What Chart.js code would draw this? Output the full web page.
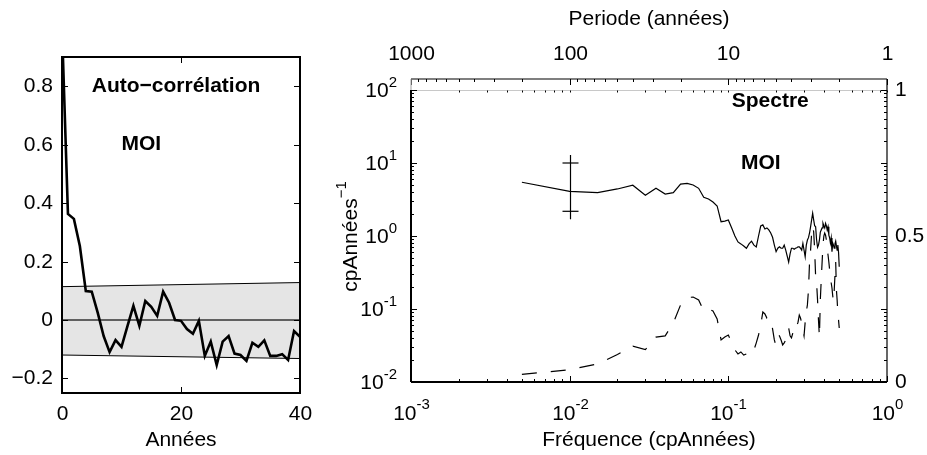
<!DOCTYPE html>
<html>
<head>
<meta charset="utf-8">
<script src="https://cdn.jsdelivr.net/npm/chart.js@4.4.1/dist/chart.umd.min.js"></script>
<style>
  html, body { margin: 0; padding: 0; background: #fff; }
  #wrap { position: relative; width: 927px; height: 455px; }
  #wrap canvas { position: absolute; left: 0; top: 0; }
</style>
</head>
<body>
<div id="wrap">
  <canvas id="acf" width="927" height="455"></canvas>
  <canvas id="spec" width="927" height="455"></canvas>
</div>
<script>
const FONT = '"Liberation Sans", Arial, Helvetica, sans-serif';
const FS = 21;      // tick labels and titles
const FS_EXP = 15;  // exponents

// ---- Auto-correlation panel ----
const LAGS = [0, 1, 2, 3, 4, 5, 6, 7, 8, 9, 10, 11, 12, 13, 14, 15, 16, 17, 18, 19, 20,
              21, 22, 23, 24, 25, 26, 27, 28, 29, 30, 31, 32, 33, 34, 35, 36, 37, 38, 39, 40];
const ACF = [1.0, 0.363, 0.346, 0.253, 0.099, 0.097, 0.025, -0.055, -0.110, -0.069, -0.092,
             -0.021, 0.048, -0.020, 0.065, 0.045, 0.014, 0.097, 0.059, 0.000, -0.003,
             -0.031, -0.047, -0.003, -0.123, -0.074, -0.154, -0.074, -0.055, -0.115, -0.120,
             -0.140, -0.078, -0.092, -0.070, -0.123, -0.123, -0.117, -0.137, -0.038, -0.058];
const BAND_LAGS = [0, 40];
const BAND_UPPER = [0.114, 0.128];
const BAND_LOWER = [-0.120, -0.132];
const ACF_XTICKS = [0, 20, 40];
const ACF_YTICKS = [-0.2, 0, 0.2, 0.4, 0.6, 0.8];
const ACF_YLABELS = ['\u22120.2', '0', '0.2', '0.4', '0.6', '0.8'];

// ---- Spectrum panel ----
const FREQ = [
  0.005, 0.010, 0.015, 0.020, 0.025, 0.030, 0.035, 0.040, 0.045, 0.050,
  0.055, 0.060, 0.065, 0.070, 0.075, 0.080, 0.085, 0.090, 0.095, 0.100,
  0.105, 0.110, 0.115, 0.120, 0.125, 0.130, 0.135, 0.140, 0.145, 0.150,
  0.155, 0.160, 0.165, 0.170, 0.175, 0.180, 0.185, 0.190, 0.195, 0.200,
  0.205, 0.210, 0.215, 0.220, 0.225, 0.230, 0.235, 0.240, 0.245, 0.250,
  0.255, 0.260, 0.265, 0.270, 0.275, 0.280, 0.285, 0.290, 0.295, 0.300,
  0.305, 0.310, 0.315, 0.320, 0.325, 0.330, 0.335, 0.340, 0.345, 0.350,
  0.355, 0.360, 0.365, 0.370, 0.375, 0.380, 0.385, 0.390, 0.395, 0.400,
  0.405, 0.410, 0.415, 0.420, 0.425, 0.430, 0.435, 0.440, 0.445, 0.450,
  0.455, 0.460, 0.465, 0.470, 0.475, 0.480, 0.485, 0.490, 0.495, 0.500];
// spectre (cpAnnées^-1), solid line, left log axis
const SPEC = [
  5.45, 4.09, 3.92, 4.41, 4.96, 3.61, 4.50, 3.76, 3.92, 5.15,
  5.27, 5.00, 4.50, 3.39, 3.21, 2.92, 2.58, 1.57, 1.60, 1.66,
  1.29, 1.00, 0.83, 0.78, 0.73, 0.68, 0.78, 0.85, 0.75, 0.71,
  1.00, 1.37, 1.42, 1.25, 1.29, 1.21, 1.10, 0.96, 0.75, 0.61,
  0.68, 0.71, 0.68, 0.68, 0.75, 0.64, 0.53, 0.44, 0.57, 0.68,
  0.68, 0.66, 0.68, 0.69, 0.71, 0.71, 0.68, 0.64, 0.79, 0.64,
  0.52, 0.75, 0.88, 0.95, 1.10, 1.34, 1.66, 2.05, 1.66, 1.38,
  1.34, 0.88, 0.70, 0.75, 0.88, 1.13, 1.21, 1.29, 1.49, 1.37,
  1.29, 1.49, 1.37, 1.21, 1.34, 1.03, 0.94, 0.80, 0.94, 0.61,
  0.80, 0.75, 0.68, 0.78, 0.85, 0.73, 0.64, 0.75, 0.60, 0.38];
// dashed line, right linear axis (0..1)
const COH = [
  0.026, 0.042, 0.062, 0.094, 0.123, 0.111, 0.154, 0.158, 0.202, 0.264,
  0.289, 0.291, 0.281, 0.243, 0.250, 0.243, 0.216, 0.144, 0.154, 0.161,
  0.134, 0.110, 0.096, 0.103, 0.092, 0.096, 0.089, 0.096, 0.110, 0.134,
  0.161, 0.195, 0.240, 0.233, 0.219, 0.223, 0.212, 0.182, 0.144, 0.123,
  0.154, 0.158, 0.144, 0.127, 0.134, 0.144, 0.168, 0.185, 0.158, 0.151,
  0.168, 0.185, 0.178, 0.192, 0.205, 0.229, 0.219, 0.202, 0.178, 0.158,
  0.205, 0.240, 0.264, 0.315, 0.411, 0.452, 0.510, 0.534, 0.514, 0.452,
  0.360, 0.339, 0.281, 0.212, 0.154, 0.281, 0.349, 0.411, 0.469, 0.500,
  0.510, 0.503, 0.486, 0.452, 0.435, 0.411, 0.384, 0.356, 0.339, 0.322,
  0.295, 0.277, 0.315, 0.366, 0.411, 0.315, 0.281, 0.236, 0.212, 0.185];

// error bar at 10^-2
const ERR_FREQ = 0.01;
const ERR_LOW = 2.18;
const ERR_HIGH = 10;

const FREQ_DECADES = [0.001, 0.01, 0.1, 1];
const FREQ_EXPS = ['-3', '-2', '-1', '0'];
const PERIOD_TICKS = [1000, 100, 10, 1];
const SPEC_DECADES = [0.01, 0.1, 1, 10, 100];
const SPEC_EXPS = ['-2', '-1', '0', '1', '2'];
const COH_TICKS = [0, 0.5, 1];
const COH_LABELS = ['0', '0.5', '1'];
const SPEC_YMAX = 141.5;
const COH_YMAX = 1.0377;

// ---- drawing helpers ----
function seg(ctx, x1, y1, x2, y2) {
  ctx.beginPath();
  ctx.moveTo(x1, y1);
  ctx.lineTo(x2, y2);
  ctx.stroke();
}

function label(ctx, s, x, y, align, size, bold) {
  ctx.font = (bold ? 'bold ' : '') + (size || FS) + 'px ' + FONT;
  ctx.textAlign = align || 'center';
  ctx.textBaseline = 'middle';
  ctx.fillStyle = '#000';
  ctx.fillText(s, x, y);
}

// "10" with a raised exponent
function powLabel(ctx, exp, x, y, align) {
  ctx.font = FS + 'px ' + FONT;
  const wb = ctx.measureText('10').width;
  ctx.font = FS_EXP + 'px ' + FONT;
  const we = ctx.measureText(exp).width;
  let x0 = x;
  if (align === 'center') x0 = x - (wb + we) / 2;
  if (align === 'right') x0 = x - wb - we;
  label(ctx, '10', x0, y, 'left');
  label(ctx, exp, x0 + wb, y - 9, 'left', FS_EXP);
}

function minorsOf(decades) {
  const out = [];
  decades.slice(0, -1).forEach(d => {
    for (let m = 2; m <= 9; m++) out.push(d * m);
  });
  return out;
}

// ---- left panel frame ----
const acfFrame = {
  id: 'acfFrame',
  afterDraw(chart) {
    const { ctx, chartArea: a } = chart;
    const x = chart.scales.x, y = chart.scales.y;
    ctx.save();
    ctx.strokeStyle = '#000';
    ctx.lineWidth = 1;
    ACF_XTICKS.forEach(v => {
      const px = Math.round(x.getPixelForValue(v)) + 0.5;
      seg(ctx, px, a.bottom, px, a.bottom - 6);
      seg(ctx, px, a.top, px, a.top + 6);
      label(ctx, String(v), px, 414);
    });
    ACF_YTICKS.forEach((v, i) => {
      const py = Math.round(y.getPixelForValue(v)) + 0.5;
      seg(ctx, a.left, py, a.left + 6, py);
      seg(ctx, a.right, py, a.right - 6, py);
      label(ctx, ACF_YLABELS[i], 53, py, 'right');
    });
    ctx.lineWidth = 2;
    ctx.strokeRect(a.left, a.top, a.right - a.left, a.bottom - a.top);

    label(ctx, 'Années', (a.left + a.right) / 2, 440);
    label(ctx, 'Auto\u2212corrélation', x.getPixelForValue(5), y.getPixelForValue(0.8), 'left', FS, true);
    label(ctx, 'MOI', x.getPixelForValue(10), y.getPixelForValue(0.6), 'left', FS, true);
    ctx.restore();
  }
};

// ---- right panel frame ----
const specFrame = {
  id: 'specFrame',
  beforeDatasetsDraw(chart) {
    const { ctx, chartArea: a } = chart;
    const x = chart.scales.x, y1 = chart.scales.y1;
    const py = Math.round(y1.getPixelForValue(1)) + 0.5;
    ctx.save();
    ctx.strokeStyle = '#c8c8c8';
    ctx.lineWidth = 1;
    seg(ctx, a.left, py, a.right, py);
    ctx.strokeStyle = '#000';
    minorsOf(FREQ_DECADES).concat(FREQ_DECADES).forEach(f => {
      const px = Math.round(x.getPixelForValue(f)) + 0.5;
      seg(ctx, px, py, px, py + 2);
    });
    ctx.restore();
  },
  afterDraw(chart) {
    const { ctx, chartArea: a } = chart;
    const x = chart.scales.x, y = chart.scales.y, y1 = chart.scales.y1;
    const top100 = y.getPixelForValue(100);
    ctx.save();
    ctx.strokeStyle = '#000';
    ctx.lineWidth = 1;

    // error bar
    const ex = Math.round(x.getPixelForValue(ERR_FREQ)) + 0.5;
    const eh = y.getPixelForValue(ERR_HIGH), el = y.getPixelForValue(ERR_LOW);
    ctx.lineWidth = 1.2;
    seg(ctx, ex, eh - 8, ex, el + 8);
    seg(ctx, ex - 8, eh, ex + 8, eh);
    seg(ctx, ex - 8, el, ex + 8, el);
    ctx.lineWidth = 1;

    // frequency ticks (bottom) and period ticks (top)
    FREQ_DECADES.forEach((f, i) => {
      const px = Math.round(x.getPixelForValue(f)) + 0.5;
      seg(ctx, px, a.bottom, px, a.bottom - 6);
      seg(ctx, px, a.top, px, a.top + 6);
      powLabel(ctx, FREQ_EXPS[i], px, 414, 'center');
    });
    minorsOf(FREQ_DECADES).forEach(f => {
      const px = Math.round(x.getPixelForValue(f)) + 0.5;
      seg(ctx, px, a.bottom, px, a.bottom - 3);
    });
    PERIOD_TICKS.forEach(p => {
      const px = Math.round(x.getPixelForValue(1 / p)) + 0.5;
      label(ctx, String(p), px, 54);
    });
    minorsOf([1, 10, 100, 1000]).forEach(p => {
      const px = Math.round(x.getPixelForValue(1 / p)) + 0.5;
      seg(ctx, px, a.top, px, a.top + 3);
    });

    // spectrum log ticks, left and right
    SPEC_DECADES.forEach((v, i) => {
      const py = Math.round(y.getPixelForValue(v)) + 0.5;
      seg(ctx, a.left, py, a.left + 6, py);
      seg(ctx, a.right, py, a.right - 6, py);
      powLabel(ctx, SPEC_EXPS[i], 397, py + 1, 'right');
    });
    minorsOf(SPEC_DECADES).forEach(v => {
      const py = Math.round(y.getPixelForValue(v)) + 0.5;
      seg(ctx, a.left, py, a.left + 3, py);
      seg(ctx, a.right, py, a.right - 3, py);
    });
    // right linear axis labels
    COH_TICKS.forEach((v, i) => {
      const py = Math.round(y1.getPixelForValue(v)) + 0.5;
      seg(ctx, a.right, py, a.right - 6, py);
      label(ctx, COH_LABELS[i], a.right + 8, py, 'left');
    });

    // frame
    ctx.lineWidth = 2;
    seg(ctx, a.left, a.bottom, a.right, a.bottom);
    seg(ctx, a.left, top100, a.left, a.bottom);
    ctx.lineWidth = 1.2;
    seg(ctx, a.left, a.top, a.right, a.top);
    seg(ctx, a.right, a.top, a.right, a.bottom);
    ctx.strokeStyle = '#b0b0b0';
    seg(ctx, a.left, a.top, a.left, top100);

    // titles
    const cx = (a.left + a.right) / 2;
    label(ctx, 'Periode (années)', cx, 19);
    label(ctx, 'Fréquence (cpAnnées)', cx, 440);
    label(ctx, 'Spectre', x.getPixelForValue(0.105), y.getPixelForValue(70), 'left', FS, true);
    label(ctx, 'MOI', x.getPixelForValue(0.12), y.getPixelForValue(10), 'left', FS, true);

    // rotated y title with superscript, left of the tick labels
    ctx.translate(351, (a.top + a.bottom) / 2 + 6);
    ctx.rotate(-Math.PI / 2);
    ctx.font = FS + 'px ' + FONT;
    const wb = ctx.measureText('cpAnnées').width;
    ctx.font = FS_EXP + 'px ' + FONT;
    const we = ctx.measureText('\u22121').width;
    label(ctx, 'cpAnnées', -(wb + we) / 2, 0, 'left');
    label(ctx, '\u22121', -(wb + we) / 2 + wb, -9, 'left', FS_EXP);
    ctx.restore();
  }
};

const common = {
  responsive: false,
  animation: false,
  events: [],
  devicePixelRatio: 1,
  elements: { point: { radius: 0 }, line: { tension: 0 } },
};

new Chart(document.getElementById('acf'), {
  type: 'line',
  data: {
    datasets: [
      { data: LAGS.map((l, i) => ({ x: l, y: ACF[i] })), borderColor: '#000', borderWidth: 2.6, fill: false },
      { data: BAND_LAGS.map(l => ({ x: l, y: 0 })), borderColor: '#333', borderWidth: 1.4, fill: false },
      { data: BAND_LAGS.map((l, i) => ({ x: l, y: BAND_UPPER[i] })), borderColor: '#000', borderWidth: 1,
        backgroundColor: '#e5e5e5', fill: '+1' },
      { data: BAND_LAGS.map((l, i) => ({ x: l, y: BAND_LOWER[i] })), borderColor: '#000', borderWidth: 1, fill: false }
    ]
  },
  options: Object.assign({}, common, {
    layout: { padding: { left: 62, right: 627, top: 57, bottom: 62 } },
    plugins: { legend: { display: false }, tooltip: { enabled: false }, filler: { drawTime: 'beforeDatasetsDraw' } },
    scales: {
      x: { type: 'linear', min: 0, max: 40, display: false },
      y: { type: 'linear', min: -0.25, max: 0.9, display: false }
    }
  }),
  plugins: [acfFrame]
});

new Chart(document.getElementById('spec'), {
  type: 'line',
  data: {
    datasets: [
      { data: FREQ.map((f, i) => ({ x: f, y: SPEC[i] })), borderColor: '#000', borderWidth: 1.2,
        yAxisID: 'y', fill: false },
      { data: FREQ.map((f, i) => ({ x: f, y: COH[i] })), borderColor: '#000', borderWidth: 1.2,
        borderDash: [15, 14], yAxisID: 'y1', fill: false }
    ]
  },
  options: Object.assign({}, common, {
    layout: { padding: { left: 411, right: 40, top: 79, bottom: 73 } },
    plugins: { legend: { display: false }, tooltip: { enabled: false } },
    scales: {
      x: { type: 'logarithmic', min: 0.001, max: 1, display: false },
      y: { type: 'logarithmic', min: 0.01, max: SPEC_YMAX, display: false },
      y1: { type: 'linear', position: 'right', min: 0, max: COH_YMAX, display: false }
    }
  }),
  plugins: [specFrame]
});
</script>
</body>
</html>
